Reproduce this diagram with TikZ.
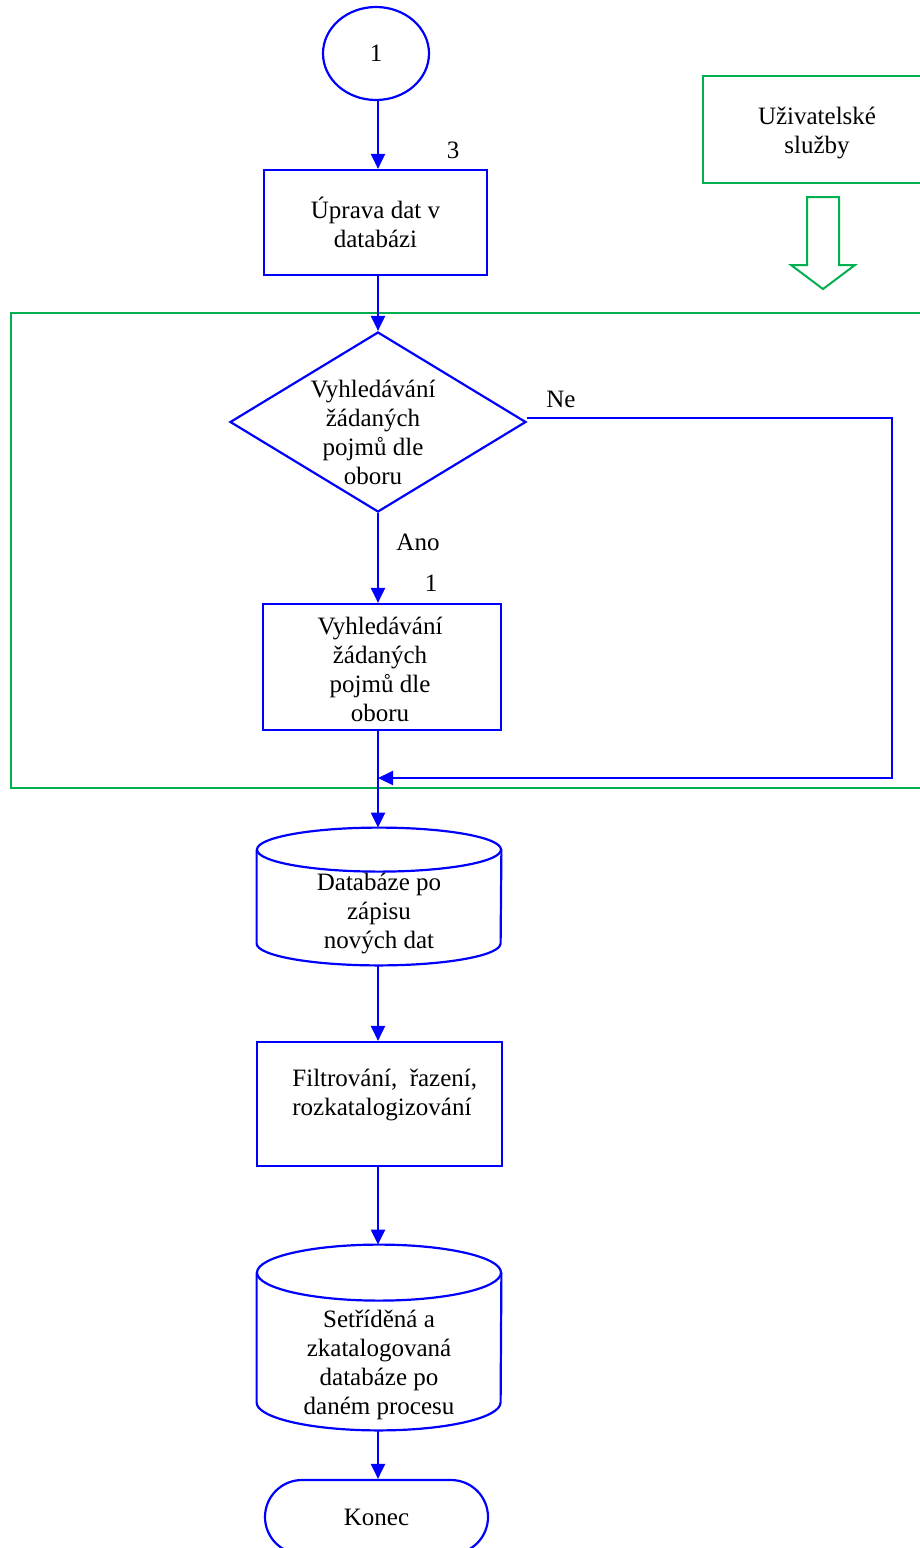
\documentclass[tikz,border=0pt]{standalone}
\usepackage{fontspec}
\setmainfont{Liberation Serif}
\usetikzlibrary{arrows.meta,shapes.geometric}
\definecolor{flowblue}{RGB}{0,0,255}
\definecolor{svcgreen}{RGB}{0,176,80}
\begin{document}
\begin{tikzpicture}[x=0.5pt,y=-0.5pt,
  every node/.style={font=\fontsize{12.5pt}{14.5pt}\selectfont, text=black},
  blueline/.style={draw=flowblue, line width=1.1pt},
  greenline/.style={draw=svcgreen, line width=1pt},
  arr/.style={blueline, -{Triangle[length=7.5pt,width=7pt]}},
  procbox/.style={blueline, rectangle, inner sep=0pt, align=center},
  txt/.style={inner sep=0pt, align=center},
  dbbox/.style={rectangle, inner sep=0pt, draw=none},
]
\useasboundingbox (0,0) rectangle (920,1548);
\clip (0,0) rectangle (920,1548);

% start connector
\node[blueline, ellipse, minimum width=53pt, minimum height=46.5pt, inner sep=0pt] (start) at (376,53.5) {1};

% first process
\node[procbox, minimum width=111.5pt, minimum height=52.5pt] (upr) at (375.5,222.5) {Úprava dat v\\databázi};
\node[txt] (n3) at (453,150) {3};

% user services block
\node[greenline, rectangle, inner sep=0pt, minimum width=116pt, minimum height=53.5pt] (svc) at (819,129.5) {};
\node[txt] (svct) at (817,132.5) {Uživatelské\\služby};
\draw[greenline, line join=miter] (807,197) -- (839,197) -- (839,265) -- (855,265) -- (823,289) -- (791,265) -- (807,265) -- cycle;

% service frame
\draw[greenline] (11,313) rectangle (940,788);

% decision
\node[blueline, diamond, minimum width=148pt, minimum height=90pt, inner sep=0pt] (dia) at (378,422) {};
\node[txt] (diat) at (373,432.5) {Vyhledávání\\žádaných\\pojmů dle\\oboru};
\node[txt] (ne) at (561,399) {Ne};
\node[txt] (ano) at (418,542) {Ano};
\node[txt] (n1) at (431,583) {1};

% search process
\node[procbox, minimum width=119pt, minimum height=63pt] (srch) at (382,667) {};
\node[txt] (srcht) at (380,669.5) {Vyhledávání\\žádaných\\pojmů dle\\oboru};

% database after write
\node[dbbox, minimum width=122pt, minimum height=68.5pt] (db1) at (379,896.5) {};
\draw[blueline] (db1.north) ++(0,-11pt) ellipse [x radius=61pt, y radius=11pt];
\draw[blueline, line join=round] ([yshift=-11pt]db1.north west) -- ([yshift=11pt]db1.south west)
  arc[start angle=180, end angle=360, x radius=61pt, y radius=11pt] -- ([yshift=-11pt]db1.north east);
\node[txt] (db1t) at (379,913) {Databáze po\\zápisu\\nových dat};

% filtering
\node[procbox, minimum width=122.5pt, minimum height=62pt] (filt) at (379.5,1104) {};
\node[inner sep=0pt, align=left, anchor=west] (filtt) at (292,1094.5) {Filtrování,~~řazení,\\rozkatalogizování};

% sorted database
\node[dbbox, minimum width=122pt, minimum height=92.5pt] (db2) at (379,1337.5) {};
\draw[blueline] (db2.north) ++(0,-14pt) ellipse [x radius=61pt, y radius=14pt];
\draw[blueline, line join=round] ([yshift=-14pt]db2.north west) -- ([yshift=14pt]db2.south west)
  arc[start angle=180, end angle=360, x radius=61pt, y radius=14pt] -- ([yshift=-14pt]db2.north east);
\node[txt] (db2t) at (379,1364.5) {Setříděná a\\zkatalogovaná\\databáze po\\daném procesu};

% end
\node[blueline, rectangle, rounded corners=18.5pt, minimum width=111.5pt, minimum height=37pt, inner sep=0pt] (end) at (376.5,1517) {Konec};

% connectors
\coordinate (loopa) at (892,418);
\coordinate (loopb) at (892,778);
\draw[arr] (start.south -| dia.north) -- (dia.north |- upr.north);
\draw[arr] (dia.north |- upr.south) -- (dia.north);
\draw[arr] (dia.south) -- (dia.south |- srch.north);
\draw[arr] (dia.south |- srch.south) -- (dia.south |- db1.north);
\draw[arr] (dia.east |- loopa) -- (loopa) -- (loopb) -- (loopb -| dia.south);
\draw[arr] (dia.south |- db1.south) -- (dia.south |- filt.north);
\draw[arr] (dia.south |- filt.south) -- (dia.south |- db2.north);
\draw[arr] (dia.south |- db2.south) -- (dia.south |- end.north);
\end{tikzpicture}
\end{document}
